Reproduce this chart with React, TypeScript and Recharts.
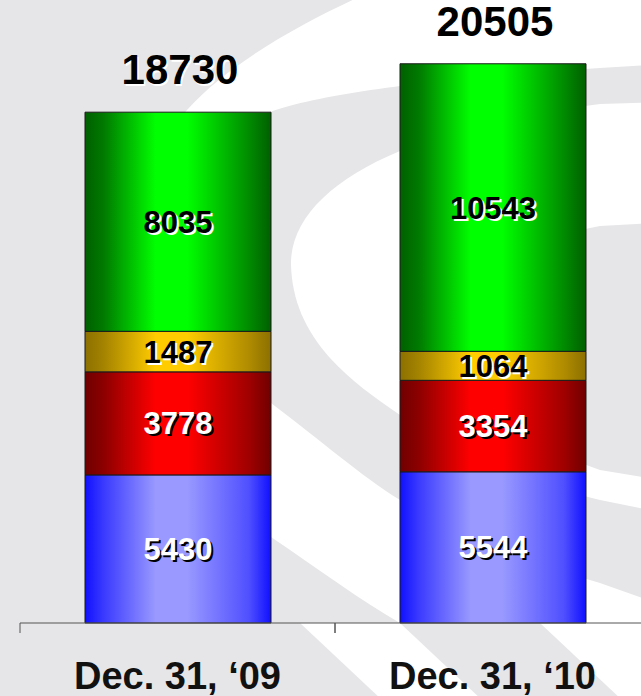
import React from "react";
import { BarChart, Bar, XAxis, YAxis, LabelList } from "recharts";

const categories = ["Dec. 31, \u201809", "Dec. 31, \u201810"];
const blueValues = [5430, 5544];
const redValues = [3778, 3354];
const yellowValues = [1487, 1064];
const greenValues = [8035, 10543];
const totals = [18730, 20505];

const data = categories.map((name, i) => ({
  name,
  blue: blueValues[i],
  red: redValues[i],
  yellow: yellowValues[i],
  green: greenValues[i],
  total: totals[i],
}));

const FONT = "'Liberation Sans', Arial, Helvetica, sans-serif";
const BG = "#e6e6e8";

const makeInnerLabel = (color: string, shadow: string) => (props: any) => {
  const x = Number(props.x);
  const y = Number(props.y);
  const w = Number(props.width);
  const h = Number(props.height);
  const cx = x + w / 2;
  const cy = y + h / 2 + 11;
  return (
    <g>
      <text x={cx + 2} y={cy + 2} textAnchor="middle" fill={shadow} fontFamily={FONT} fontWeight="bold" fontSize={31}>
        {props.value}
      </text>
      <text x={cx} y={cy} textAnchor="middle" fill={color} fontFamily={FONT} fontWeight="bold" fontSize={31}>
        {props.value}
      </text>
    </g>
  );
};

const TotalLabel = (props: any) => {
  const x = Number(props.x);
  const y = Number(props.y);
  const w = Number(props.width);
  const cx = x + w / 2 + 2;
  const by = y - 28;
  return (
    <g>
      <text x={cx + 1.5} y={by + 1.5} textAnchor="middle" fill="#ffffff" fontFamily={FONT} fontWeight="bold" fontSize={42}>
        {props.value}
      </text>
      <text x={cx} y={by} textAnchor="middle" fill="#000000" fontFamily={FONT} fontWeight="bold" fontSize={42}>
        {props.value}
      </text>
    </g>
  );
};

const XTick = (props: any) => {
  const { x, y, payload } = props;
  const axisW = Number(props.width) || 630;
  const half = axisW / categories.length / 2;
  return (
    <g>
      <line x1={x - half} y1={y} x2={x - half} y2={y + 10} stroke="#555" strokeWidth={1} />
      <line x1={x + half} y1={y} x2={x + half} y2={y + 10} stroke="#555" strokeWidth={1} />
      <text x={x} y={y + 66} textAnchor="middle" fill="#111" fontFamily={FONT} fontWeight="bold" fontSize={38}>
        {payload.value}
      </text>
    </g>
  );
};

const gradient = (id: string, edge: string, mid1: string, bright: string, mid2: string) => (
  <linearGradient id={id} x1="0" y1="0" x2="1" y2="0">
    <stop offset="0" stopColor={edge} />
    <stop offset="0.1" stopColor={mid1} />
    <stop offset="0.38" stopColor={bright} />
    <stop offset="0.55" stopColor={bright} />
    <stop offset="0.88" stopColor={mid2} />
    <stop offset="1" stopColor={edge} />
  </linearGradient>
);

const Background = () => (
  <svg width={641} height={696} style={{ position: "absolute", left: 0, top: 0 }}>
    <defs>
      <clipPath id="bgTopClip">
        <rect x={0} y={0} width={641} height={623} />
      </clipPath>
    </defs>
    <rect x={0} y={0} width={641} height={696} fill={BG} />
    <g clipPath="url(#bgTopClip)">
      <path
        d="M 900,-100 L 450,-40 C 380,-15 250,40 187,110 C 130,175 110,260 130,340 C 150,420 210,490 271,537 C 320,570 360,600 400,623 L 640,740 L 900,800 Z"
        fill="#ffffff"
      />
      <path
        d="M 900,50 L 600,68 C 480,75 330,90 270,112 C 200,140 180,250 200,320 C 215,360 240,385 271,403 C 320,440 360,475 400,500 C 470,545 540,565 600,583 L 900,690 Z"
        fill={BG}
      />
      <path
        d="M 900,95 L 600,104 C 500,118 440,135 400,151 C 330,180 290,220 291,265 C 292,300 305,330 330,358 C 350,380 375,398 400,415 C 470,460 540,485 600,500 L 900,560 Z"
        fill="#ffffff"
      />
      <path
        d="M 900,210 L 600,226 C 520,240 470,290 480,350 C 490,410 540,450 600,470 L 900,520 Z"
        fill={BG}
      />
    </g>
    <path d="M 300,623 L 400,623 L 482,700 L 382,700 Z" fill="#ffffff" />
    <path d="M 540,623 L 700,623 L 780,700 L 622,700 Z" fill="#ffffff" />
  </svg>
);

export default function App() {
  return (
    <div style={{ position: "absolute", left: 0, top: 0, width: 641, height: 696, overflow: "hidden" }}>
      <Background />
      <div style={{ position: "absolute", left: 0, top: 0 }}>
        <BarChart
          width={650}
          height={696}
          data={data}
          margin={{ top: 23, right: 0, bottom: 0, left: 20 }}
          barCategoryGap={0}
        >
          <defs>
            {gradient("gBlue", "#1010ff", "#3a3aff", "#9999ff", "#5050ff")}
            {gradient("gRed", "#700000", "#8c0000", "#ff0000", "#a00000")}
            {gradient("gYellow", "#8c7000", "#a48300", "#ffcc00", "#b08c00")}
            {gradient("gGreen", "#006000", "#007a00", "#00ff00", "#008c00")}
          </defs>
          <XAxis
            dataKey="name"
            height={73}
            axisLine={{ stroke: "#555", strokeWidth: 1 }}
            tickLine={false}
            tickSize={0}
            tickMargin={0}
            interval={0}
            tick={<XTick />}
          />
          <YAxis hide domain={[0, 22000]} />
          <Bar dataKey="blue" stackId="s" fill="url(#gBlue)" stroke="#1a1a1a" strokeWidth={1} barSize={186} isAnimationActive={false}>
            <LabelList dataKey="blue" content={makeInnerLabel("#ffffff", "#000000")} />
          </Bar>
          <Bar dataKey="red" stackId="s" fill="url(#gRed)" stroke="#1a1a1a" strokeWidth={1} barSize={186} isAnimationActive={false}>
            <LabelList dataKey="red" content={makeInnerLabel("#ffffff", "#000000")} />
          </Bar>
          <Bar dataKey="yellow" stackId="s" fill="url(#gYellow)" stroke="#1a1a1a" strokeWidth={1} barSize={186} isAnimationActive={false}>
            <LabelList dataKey="yellow" content={makeInnerLabel("#000000", "#ffffff")} />
          </Bar>
          <Bar dataKey="green" stackId="s" fill="url(#gGreen)" stroke="#1a1a1a" strokeWidth={1} barSize={186} isAnimationActive={false}>
            <LabelList dataKey="green" content={makeInnerLabel("#000000", "#ffffff")} />
            <LabelList dataKey="total" content={<TotalLabel />} />
          </Bar>
        </BarChart>
      </div>
    </div>
  );
}
